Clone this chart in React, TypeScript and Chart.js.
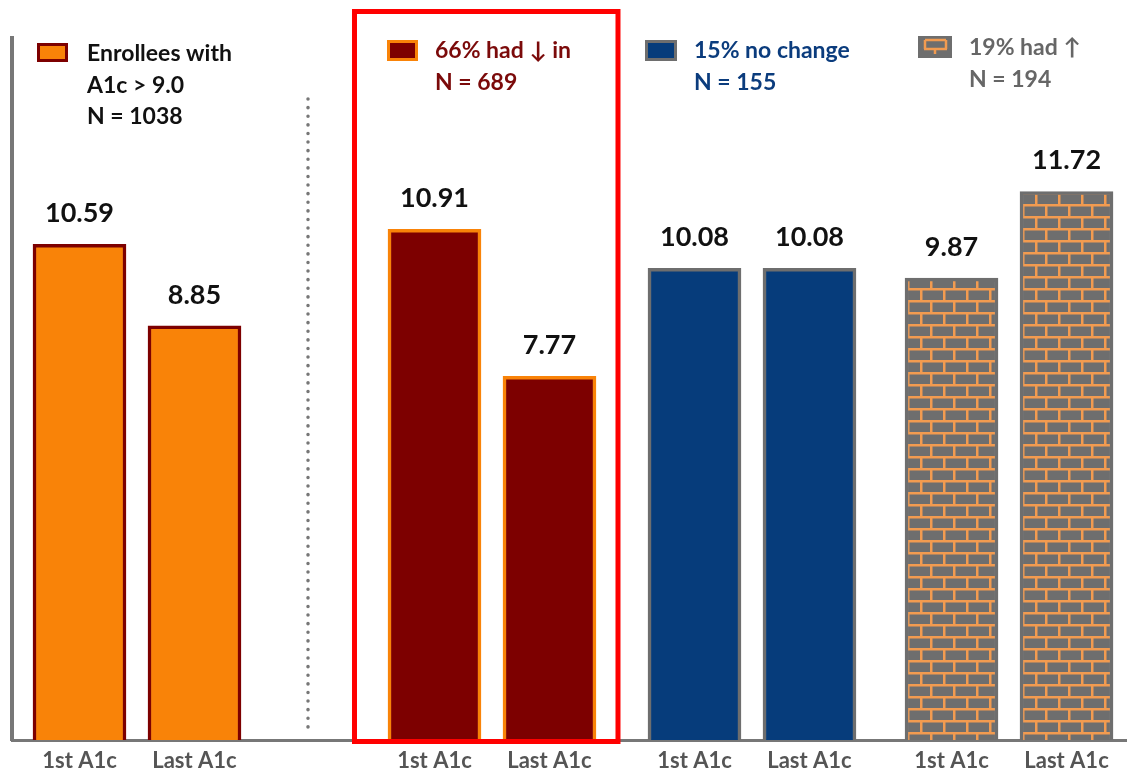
import React, { useEffect, useRef } from "react";
import { Chart, registerables } from "chart.js";

Chart.register(...registerables);

// Groups of enrollees and their first / last A1c readings
const groupNames = ["Enrollees with", "66% had ↓ in", "15% no change", "19% had ↑"];
const groupSubtitles = ["A1c > 9.0", "", "", ""];
const groupCounts = [1038, 689, 155, 194];
const firstA1c = [10.59, 10.91, 10.08, 9.87];
const lastA1c = [8.85, 7.77, 10.08, 11.72];
const tickLabels = ["1st A1c", "Last A1c"];

// Horizontal placement of each group's first bar, in bar-pitch units
const groupSlots = [0.587, 3.674, 5.935, 8.17];
const X_MAX = 9.696;
const Y_MAX = 15;

const ORANGE = "#F98308";
const MAROON = "#7D0000";
const NAVY = "#063C7B";
const GRAY = "#6E6E6E";
const MORTAR = "#F29B50";
const FONT = "Lato, 'Open Sans', sans-serif";

function makeBrickPattern(): CanvasPattern | string {
  const tile = document.createElement("canvas");
  tile.width = 23;
  tile.height = 24;
  const c = tile.getContext("2d");
  if (!c) return GRAY;
  c.fillStyle = MORTAR;
  c.fillRect(0, 0, 23, 24);
  c.fillStyle = GRAY;
  // upper course
  c.fillRect(2.5, 2.5, 20.5, 9.5);
  // lower course, offset by half a brick
  c.fillRect(0, 14.5, 10, 9.5);
  c.fillRect(12.5, 14.5, 10.5, 9.5);
  const p = c.createPattern(tile, "repeat");
  return p || GRAY;
}

export default function App() {
  const canvasRef = useRef<HTMLCanvasElement | null>(null);

  useEffect(() => {
    const canvas = canvasRef.current;
    if (!canvas) return;
    const brick = makeBrickPattern();

    const points: { x: number; y: number }[] = [];
    const fills: (string | CanvasPattern)[] = [];
    const borders: string[] = [];
    const labels: string[] = [];
    const groupFill = [ORANGE, MAROON, NAVY, brick];
    const groupBorder = [MAROON, ORANGE, GRAY, GRAY];
    groupSlots.forEach((slot, g) => {
      points.push({ x: slot, y: firstA1c[g] });
      points.push({ x: slot + 1, y: lastA1c[g] });
      fills.push(groupFill[g], groupFill[g]);
      borders.push(groupBorder[g], groupBorder[g]);
      labels.push(tickLabels[0], tickLabels[1]);
    });

    const overlay = {
      id: "overlay",
      afterDraw(chart: any) {
        const ctx = chart.ctx as CanvasRenderingContext2D;
        const meta = chart.getDatasetMeta(0);
        ctx.save();

        // value labels above bars
        ctx.font = `bold 27px ${FONT}`;
        ctx.fillStyle = "#111";
        ctx.textAlign = "center";
        ctx.textBaseline = "middle";
        meta.data.forEach((bar: any, i: number) => {
          ctx.fillText(points[i].y.toFixed(2), bar.x, bar.y - 31);
        });

        // dotted separator
        ctx.strokeStyle = "#777";
        ctx.lineWidth = 3.5;
        ctx.lineCap = "round";
        ctx.setLineDash([0.1, 8.5]);
        ctx.beginPath();
        ctx.moveTo(308, 99);
        ctx.lineTo(308, 735);
        ctx.stroke();
        ctx.setLineDash([]);

        // highlight frame around the "had ↓" group
        const b0 = meta.data[2];
        const b1 = meta.data[3];
        ctx.strokeStyle = "#FF0000";
        ctx.lineWidth = 5;
        ctx.lineCap = "butt";
        ctx.strokeRect(b0.x - 80, 11.5, b1.x - b0.x + 148.5, 730);

        // legend keys
        const drawBox = (x: number, y: number, w: number, h: number, fill: any, stroke: string) => {
          ctx.fillStyle = fill;
          ctx.fillRect(x, y, w, h);
          ctx.strokeStyle = stroke;
          ctx.lineWidth = 3;
          ctx.strokeRect(x + 1.5, y + 1.5, w - 3, h - 3);
        };
        drawBox(37, 43, 31, 19, ORANGE, MAROON);
        drawBox(387, 40, 31, 21, MAROON, ORANGE);
        drawBox(645, 40, 32, 21, NAVY, GRAY);
        // brick key
        ctx.fillStyle = GRAY;
        ctx.fillRect(918, 36, 34, 22);
        ctx.strokeStyle = MORTAR;
        ctx.lineWidth = 2.5;
        ctx.beginPath();
        ctx.moveTo(925, 40);
        ctx.lineTo(946, 40);
        ctx.moveTo(925, 40);
        ctx.lineTo(925, 49);
        ctx.moveTo(946, 40);
        ctx.lineTo(946, 49);
        ctx.moveTo(924, 49);
        ctx.lineTo(947, 49);
        ctx.moveTo(935, 49);
        ctx.lineTo(935, 54);
        ctx.stroke();

        // legend text
        ctx.textAlign = "left";
        ctx.font = `bold 23px ${FONT}`;
        const legendText = [
          { x: 87, y: 54, color: "#111", lines: [groupNames[0], groupSubtitles[0], `N = ${groupCounts[0]}`] },
          { x: 435, y: 51, color: "#7B0A0A", lines: [groupNames[1], `N = ${groupCounts[1]}`] },
          { x: 694, y: 51, color: "#0B3C7D", lines: [groupNames[2], `N = ${groupCounts[2]}`] },
          { x: 969, y: 48, color: "#666", lines: [groupNames[3], `N = ${groupCounts[3]}`] },
        ];
        legendText.forEach((l) => {
          ctx.fillStyle = l.color;
          l.lines.forEach((t, k) => ctx.fillText(t, l.x, l.y + k * 31.5));
        });
        ctx.restore();
      },
    };

    const chart = new Chart(canvas, {
      type: "bar",
      data: {
        datasets: [
          {
            data: points,
            backgroundColor: fills as any,
            borderColor: borders,
            borderWidth: 3.5,
            barThickness: 93,
          },
        ],
      },
      options: {
        animation: false,
        responsive: false,
        layout: { padding: { top: 38, right: 0, bottom: 0, left: 0 } },
        plugins: { legend: { display: false }, tooltip: { enabled: false } },
        scales: {
          x: {
            type: "linear",
            min: 0,
            max: X_MAX,
            offset: false,
            grid: { display: false, drawTicks: false },
            border: { color: "#777", width: 3 },
            afterBuildTicks: (scale: any) => {
              scale.ticks = points.map((p) => ({ value: p.x }));
            },
            afterFit: (scale: any) => {
              scale.height = 34;
            },
            ticks: {
              autoSkip: false,
              maxRotation: 0,
              padding: 8,
              color: "#555",
              font: { family: FONT, size: 22, weight: "bold" },
              callback: (_v: any, i: number) => labels[i],
            },
          },
          y: {
            min: 0,
            max: Y_MAX,
            grid: { display: false },
            border: { color: "#777", width: 4 },
            ticks: { display: false },
            afterFit: (scale: any) => {
              scale.width = 12;
            },
          },
        },
      },
      plugins: [overlay],
    });
    return () => chart.destroy();
  }, []);

  return (
    <div style={{ position: "fixed", left: 0, top: 0, width: 1127, height: 774, background: "#fff" }}>
      <canvas ref={canvasRef} width={1127} height={774} />
    </div>
  );
}
